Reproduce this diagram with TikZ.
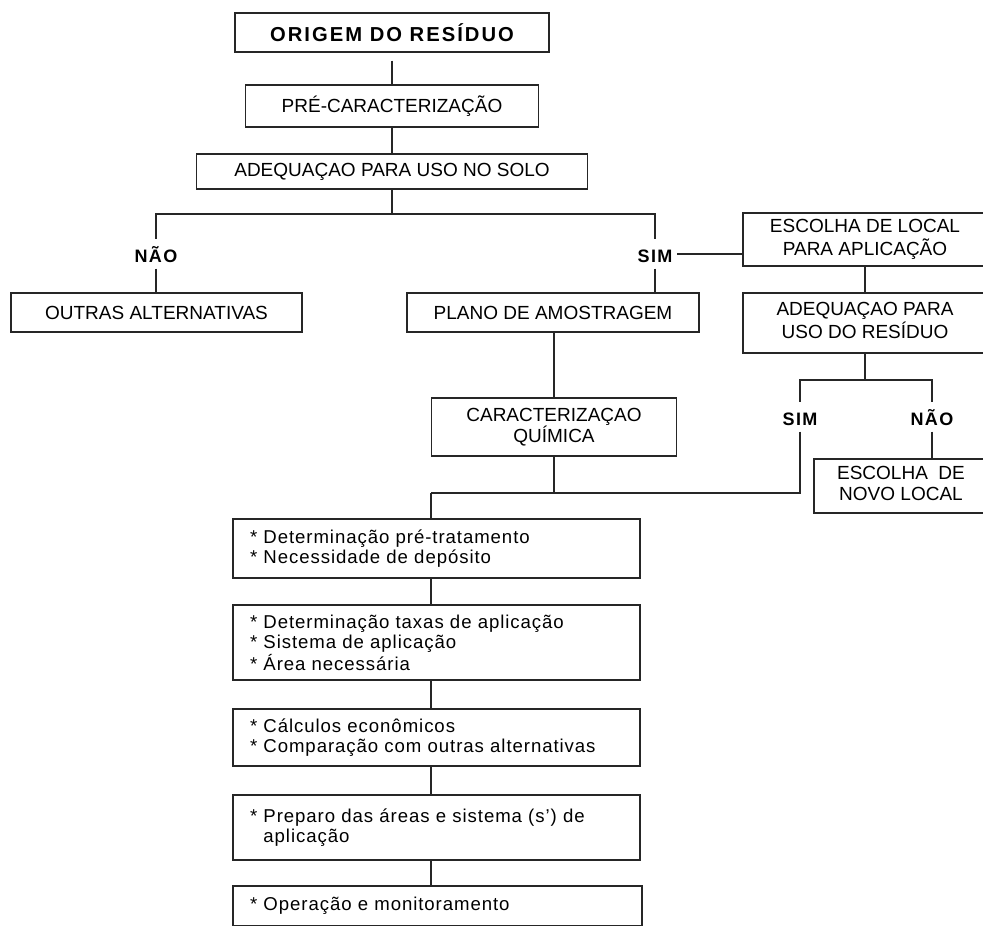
\documentclass[tikz,border=0pt]{standalone}
\usepackage{fontspec}
\setmainfont{Liberation Sans}
\newfontfamily\titlefam[LetterSpace=10]{Liberation Sans}
\newfontfamily\labfam[LetterSpace=8]{Liberation Sans}
\newfontfamily\listfam[LetterSpace=5]{Liberation Sans}
\newcommand\capsfont{\fontsize{9.5}{10.5}\selectfont}
\newcommand\titlefont{\titlefam\bfseries\fontsize{10.1}{11}\selectfont}
\newcommand\labfont{\labfam\bfseries\fontsize{9}{10}\selectfont}
\newcommand\listfont{\listfam\fontsize{9.3}{10}\selectfont}
\begin{document}
\begin{tikzpicture}[x=0.5pt,y=-0.5pt,
  line width=0.7pt, draw=black!85,
  box/.style={draw, line width=0.7pt, inner sep=0pt, align=center, font=\capsfont},
  listbox/.style={draw, line width=0.7pt, minimum width=203.5pt, text width=186.5pt,
     inner xsep=8.5pt, inner ysep=0pt, align=left, font=\listfont},
  lab/.style={font=\labfont, anchor=base, inner xsep=2pt, inner ysep=3pt, text height=8pt, text depth=0pt}]
\useasboundingbox (0,0) rectangle (983,925);
\clip (0,0) rectangle (983,925);

% top chain
\node[box, font=\titlefont, minimum width=157pt, minimum height=19.5pt] (origem) at (392,32.5) {ORIGEM DO RESÍDUO};
\node[box, minimum width=146.5pt, minimum height=21pt] (pre) at (392,106) {PRÉ-CARACTERIZAÇÃO};
\node[box, minimum width=195.5pt, minimum height=17.5pt] (adeq) at (392,171.5) {ADEQUAÇAO PARA USO NO SOLO};

% labels
\node[lab] (nao1) at (156,262) {NÃO};
\node[lab] (sim1) at (655,262) {SIM};
\node[lab] (sim2) at (800,425) {SIM};
\node[lab] (nao2) at (932,425) {NÃO};

% second row
\node[box, minimum width=145.5pt, minimum height=19.5pt] (outras) at (156.5,312.5) {OUTRAS ALTERNATIVAS};
\node[box, minimum width=146pt, minimum height=19.5pt] (plano) at (553,312.5) {PLANO DE AMOSTRAGEM};
\node[box, minimum width=130pt, minimum height=26.5pt] (escolha) at (873,239.5)
  {\begin{tabular}{@{}c@{}}ESCOLHA DE LOCAL\\PARA APLICAÇÃO\end{tabular}\hspace*{8pt}};
\node[box, minimum width=130pt, minimum height=30pt] (adeq2) at (873,323)
  {\begin{tabular}{@{}c@{}}ADEQUAÇAO PARA\\USO DO RESÍDUO\end{tabular}\hspace*{8pt}};
\node[box, minimum width=122.5pt, minimum height=29pt] (caract) at (554,427) {CARACTERIZAÇAO\\QUÍMICA};
\node[box, minimum width=94.5pt, minimum height=27pt] (novo) at (908.5,486)
  {\begin{tabular}{@{}c@{}}ESCOLHA\ \ DE\\NOVO LOCAL\end{tabular}\hspace*{7.5pt}};

% list boxes
\node[listbox, minimum height=29.5pt] (b1) at (436.5,548.5) {* Determinação pré-tratamento\\{}* Necessidade de depósito};
\node[listbox, minimum height=37.5pt] (b2) at (436.5,642.5) {* Determinação taxas de aplicação\\{}* Sistema de aplicação\\{}* Área necessária};
\node[listbox, minimum height=28.5pt] (b3) at (436.5,737.5) {* Cálculos econômicos\\{}* Comparação com outras alternativas};
\node[listbox, minimum height=32.5pt] (b4) at (436.5,827.5) {* Preparo das áreas e sistema (s’) de\\\hphantom{* }aplicação};
\node[listbox, minimum height=20pt, minimum width=204.5pt, text width=187.5pt] (b5) at (437.5,906) {* Operação e monitoramento};

% junction coordinates
\coordinate (j0) at (392,214);
\coordinate (j2) at (865,380);
\coordinate (j3) at (431,493);

% connectors
\draw[shorten <=4pt] (origem) -- (pre);
\draw (pre) -- (adeq);
\draw (adeq.south) -- (j0);
\draw (j0) -| (nao1.north);
\draw (j0) -| (sim1.north);
\draw (nao1.south) -- (nao1.south |- outras.north);
\draw (sim1.south) -- (sim1.south |- plano.north);
\draw (sim1.east) -- (sim1.east -| escolha.west);
\draw (escolha.south -| j2) -- (adeq2.north -| j2);
\draw (adeq2.south -| j2) -- (j2);
\draw (j2) -| (sim2.north);
\draw (j2) -| (nao2.north);
\draw (nao2.south) -- (nao2.south |- novo.north);
\draw (plano.south -| caract.north) -- (caract.north);
\draw (caract.south) -- (caract.south |- j3);
\draw (sim2.south) |- (j3);
\draw (j3) -- (j3 |- b1.north);
\draw (b1.south -| j3) -- (b2.north -| j3);
\draw (b2.south -| j3) -- (b3.north -| j3);
\draw (b3.south -| j3) -- (b4.north -| j3);
\draw (b4.south -| j3) -- (b5.north -| j3);
\end{tikzpicture}
\end{document}
